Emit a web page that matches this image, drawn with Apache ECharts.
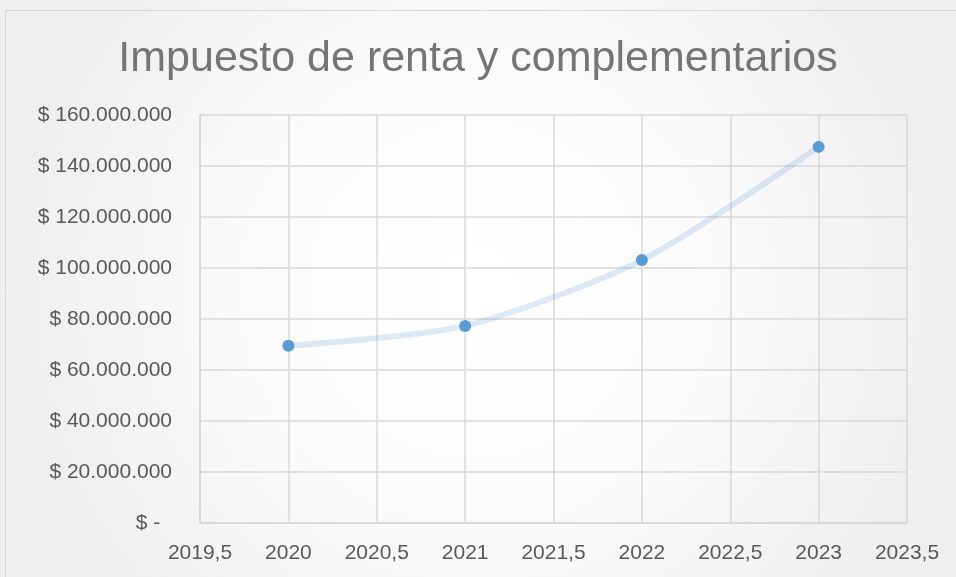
<!DOCTYPE html>
<html>
<head>
<meta charset="utf-8">
<script src="https://cdn.jsdelivr.net/npm/echarts@6/dist/echarts.min.js"></script>
<style>
html,body{margin:0;padding:0;background:#fff;}
#main{width:956px;height:577px;}
</style>
</head>
<body>
<div id="main"></div>
<script>
const titleText = "Impuesto de renta y complementarios";
const years = [2020, 2021, 2022, 2023];
const values = [69500000, 77300000, 103100000, 147500000];
const xMin = 2019.5, xMax = 2023.5, xStep = 0.5;
const yMin = 0, yMax = 160000000, yStep = 20000000;

function fmtMoney(v) {
  if (v === 0) return "$ -  ";
  return "$ " + String(Math.round(v)).replace(/\B(?=(\d{3})+(?!\d))/g, ".");
}
function fmtYear(v) {
  return String(v).replace(".", ",");
}

const chart = echarts.init(document.getElementById('main'), null, {renderer: 'canvas'});
const font = "Liberation Sans";
const option = {
  animation: false,
  backgroundColor: {
    type: 'radial', x: 0.5, y: 0.5, r: 0.8,
    colorStops: [{offset: 0, color: '#ffffff'}, {offset: 0.5, color: '#fbfbfb'}, {offset: 1, color: '#efefef'}]
  },
  graphic: [{
    type: 'rect', shape: {x: 5.5, y: 10.5, width: 960, height: 580},
    style: {fill: 'none', stroke: '#d9d9d9', lineWidth: 1}, silent: true
  }],
  title: {
    text: titleText, left: 'center', top: 33,
    textStyle: {fontFamily: font, fontSize: 43, fontWeight: 'normal', color: '#757575'}
  },
  grid: {left: 200, right: 49, top: 115, bottom: 54, containLabel: false},
  xAxis: {
    type: 'value', min: xMin, max: xMax, interval: xStep,
    axisLine: {show: true, lineStyle: {color: '#d6d6d6', width: 1.5}},
    axisTick: {show: false},
    splitLine: {show: true, lineStyle: {color: '#d9d9d9', width: 1.5}},
    axisLabel: {formatter: fmtYear, color: '#595959', fontFamily: font, fontSize: 21, margin: 20}
  },
  yAxis: {
    type: 'value', min: yMin, max: yMax, interval: yStep,
    axisLine: {show: true, lineStyle: {color: '#d6d6d6', width: 1.5}},
    axisTick: {show: false},
    splitLine: {show: true, lineStyle: {color: '#d9d9d9', width: 1.5}},
    axisLabel: {formatter: fmtMoney, color: '#595959', fontFamily: font, fontSize: 21, margin: 28}
  },
  series: [{
    type: 'line', smooth: 0.25,
    data: years.map((y, i) => [y, values[i]]),
    symbol: 'circle', symbolSize: 12,
    itemStyle: {color: '#5b9bd5'},
    lineStyle: {color: 'rgba(91,155,213,0.2)', width: 6}
  }]
};
chart.setOption(option);
</script>
</body>
</html>
